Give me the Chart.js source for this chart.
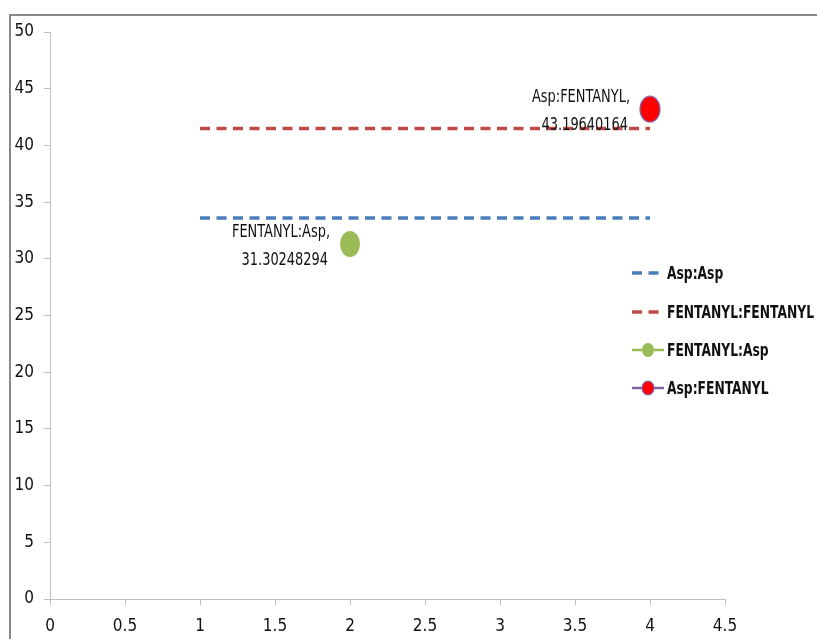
<!DOCTYPE html>
<html>
<head>
<meta charset="utf-8">
<script src="https://cdn.jsdelivr.net/npm/chart.js@4/dist/chart.umd.min.js"></script>
<style>
  html, body { margin: 0; padding: 0; background: #fff; overflow: hidden; width: 817px; height: 639px; }
  #wrap { position: absolute; left: 0; top: 0; width: 817px; height: 660px; }
</style>
</head>
<body>
<div id="wrap"><canvas id="c" width="817" height="660"></canvas></div>
<script>
// Series names, in legend order
const seriesNames = ['Asp:Asp', 'FENTANYL:FENTANYL', 'FENTANYL:Asp', 'Asp:FENTANYL'];

// Reference levels (dashed lines)
const aspAspX = [1, 4];
const aspAspY = [33.6, 33.6];
const fenFenX = [1, 4];
const fenFenY = [41.5, 41.5];

// Cross measurements (single points)
const fenAspX = [2];
const fenAspY = [31.30248294];
const aspFenX = [4];
const aspFenY = [43.19640164];

// Axis ranges
const xRange = [0, 4.5];
const xStep = 0.5;
const yRange = [0, 50];
const yStep = 5;

const FONT = "'Liberation Sans Narrow', 'DejaVu Sans Condensed', 'Liberation Sans', sans-serif";

function pts(xs, ys) { return xs.map((x, i) => ({ x: x, y: ys[i] })); }

// Elliptical marker images
function ellipseMarker(w, h, fill, stroke) {
  const cv = document.createElement('canvas');
  cv.width = w + 2; cv.height = h + 2;
  const g = cv.getContext('2d');
  g.beginPath();
  g.ellipse(cv.width / 2, cv.height / 2, w / 2, h / 2, 0, 0, Math.PI * 2);
  g.fillStyle = fill; g.fill();
  if (stroke) { g.lineWidth = 1.2; g.strokeStyle = stroke; g.stroke(); }
  return cv;
}
const greenMarker = ellipseMarker(20, 26, '#9bbb59', null);
const redMarker = ellipseMarker(20, 26, '#ff0000', '#7566b0');

// Draw text squeezed horizontally to a narrow face
function narrowText(ctx, text, x, y, sx) {
  ctx.save();
  ctx.translate(x, y);
  ctx.scale(sx, 1);
  ctx.fillText(text, 0, 0);
  ctx.restore();
}

const framePlugin = {
  id: 'frame',
  beforeDraw(chart) {
    const ctx = chart.ctx;
    ctx.save();
    ctx.fillStyle = '#fff';
    ctx.fillRect(0, 0, chart.width, chart.height);
    ctx.strokeStyle = '#8a8a8a';
    ctx.lineWidth = 2;
    ctx.strokeRect(10, 15, 1200, 1200);
    ctx.restore();
  }
};

const pointLabelPlugin = {
  id: 'pointLabels',
  afterDatasetsDraw(chart) {
    const ctx = chart.ctx;
    ctx.save();
    ctx.font = '18px ' + FONT;
    ctx.fillStyle = '#111';
    ctx.textAlign = 'right';
    ctx.textBaseline = 'middle';
    const sx = 98 / ctx.measureText('Asp:FENTANYL,').width;
    chart.data.datasets.forEach((ds, di) => {
      if (!ds.showValueLabel) return;
      const meta = chart.getDatasetMeta(di);
      meta.data.forEach((el, i) => {
        const v = ds.data[i].y;
        narrowText(ctx, ds.label + ',', el.x - 20, el.y - 12, sx);
        narrowText(ctx, String(v), el.x - 22, el.y + 16, sx);
      });
    });
    ctx.restore();
  }
};

const legendPlugin = {
  id: 'sideLegend',
  afterDraw(chart) {
    const ctx = chart.ctx;
    const x0 = 632, x1 = 664, tx = 667;
    const ys = [273, 312, 350, 388];
    ctx.save();
    ctx.font = 'bold 18px ' + FONT;
    ctx.textBaseline = 'middle';
    ctx.textAlign = 'left';
    const sx = 147 / ctx.measureText('FENTANYL:FENTANYL').width;
    chart.data.datasets.forEach((ds, i) => {
      const y = ys[i];
      ctx.beginPath();
      ctx.lineWidth = ds.legendLineWidth;
      ctx.strokeStyle = ds.legendLineColor;
      ctx.setLineDash(ds.borderDash || []);
      ctx.moveTo(x0, y); ctx.lineTo(x1, y);
      ctx.stroke();
      ctx.setLineDash([]);
      if (ds.legendMarkerFill) {
        ctx.beginPath();
        ctx.ellipse((x0 + x1) / 2, y, 6, 7, 0, 0, Math.PI * 2);
        ctx.fillStyle = ds.legendMarkerFill; ctx.fill();
        if (ds.legendMarkerStroke) { ctx.lineWidth = 1.2; ctx.strokeStyle = ds.legendMarkerStroke; ctx.stroke(); }
      }
      ctx.fillStyle = '#111';
      narrowText(ctx, ds.label, tx, y + 1, sx);
    });
    ctx.restore();
  }
};

new Chart(document.getElementById('c'), {
  type: 'scatter',
  data: {
    datasets: [
      {
        label: seriesNames[0], data: pts(aspAspX, aspAspY), showLine: true,
        borderColor: '#4a7ebb', borderWidth: 3.5, borderDash: [10, 6.5], pointRadius: 0,
        legendLineColor: '#4a7ebb', legendLineWidth: 3.5
      },
      {
        label: seriesNames[1], data: pts(fenFenX, fenFenY), showLine: true,
        borderColor: '#be4b48', borderWidth: 3.5, borderDash: [10, 6.5], pointRadius: 0,
        legendLineColor: '#be4b48', legendLineWidth: 3.5
      },
      {
        label: seriesNames[2], data: pts(fenAspX, fenAspY), showLine: false,
        pointStyle: greenMarker, backgroundColor: '#9bbb59', borderColor: '#9bbb59',
        showValueLabel: true,
        legendLineColor: '#9bbb59', legendLineWidth: 2.5, legendMarkerFill: '#9bbb59'
      },
      {
        label: seriesNames[3], data: pts(aspFenX, aspFenY), showLine: false,
        pointStyle: redMarker, backgroundColor: '#ff0000', borderColor: '#7566b0',
        showValueLabel: true,
        legendLineColor: '#8064a2', legendLineWidth: 2.5, legendMarkerFill: '#ff0000', legendMarkerStroke: '#7566b0'
      }
    ]
  },
  options: {
    responsive: false,
    animation: false,
    devicePixelRatio: 1,
    layout: { padding: { left: 0, top: 32, right: 92, bottom: 0 } },
    plugins: { legend: { display: false }, tooltip: { enabled: false } },
    scales: {
      x: {
        type: 'linear', min: xRange[0], max: xRange[1],
        ticks: { stepSize: xStep, color: '#111', padding: 11, font: { family: FONT, size: 17 },
                 callback: (v) => String(v) },
        grid: { drawOnChartArea: false, drawTicks: true, tickLength: 6, color: '#bfbfbf' },
        border: { display: true, color: '#bfbfbf', width: 1 },
        afterFit(scale) { scale.height = 61; }
      },
      y: {
        type: 'linear', min: yRange[0], max: yRange[1],
        ticks: { stepSize: yStep, color: '#111', padding: 10, font: { family: FONT, size: 17 } },
        grid: { drawOnChartArea: false, drawTicks: true, tickLength: 6, color: '#bfbfbf' },
        border: { display: true, color: '#bfbfbf', width: 1 },
        afterFit(scale) { scale.width = 50; }
      }
    }
  },
  plugins: [framePlugin, pointLabelPlugin, legendPlugin]
});
</script>
</body>
</html>
